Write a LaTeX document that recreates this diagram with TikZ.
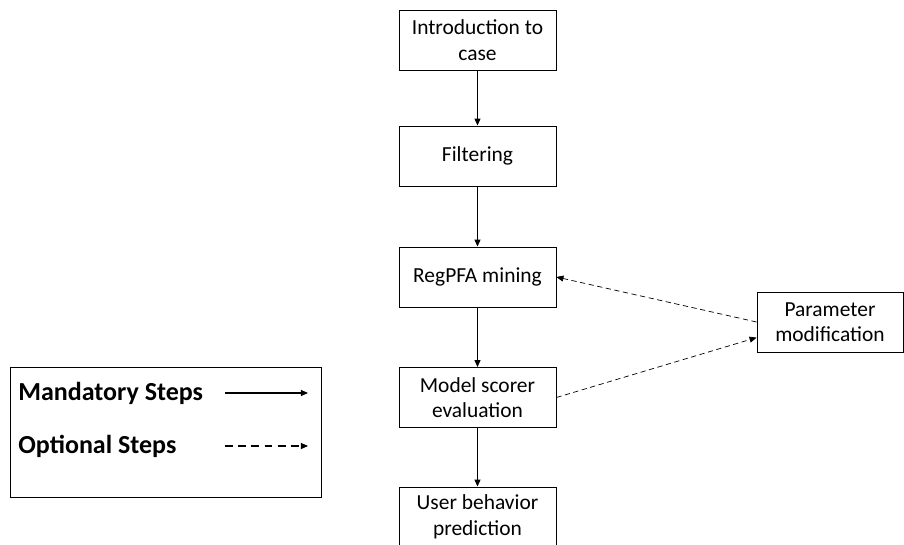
\documentclass[tikz,border=0pt]{standalone}
\usepackage{fontspec}
\setmainfont{Carlito}
\usetikzlibrary{arrows.meta}
\tikzset{
  stepbox/.style={draw, line width=0.5pt, minimum width=3.14cm, minimum height=1.2cm,
    align=center, font=\fontsize{12.2}{14.5}\selectfont},
  must/.style={-{Triangle[length=4pt,width=3.4pt]}, line width=0.7pt},
  maybe/.style={-{Triangle[length=4pt,width=3.4pt]}, line width=0.4pt, dash pattern=on 3pt off 2pt},
  legendtext/.style={anchor=west, font=\fontsize{14.8}{17}\selectfont\bfseries},
}
\begin{document}
\begin{tikzpicture}[x=0.02cm,y=-0.02cm]
\useasboundingbox (0,0) rectangle (904,545);
\clip (0,0) rectangle (904,545);
\node[stepbox] (intro) at (477.5,40) {Introduction to\\case};
\node[stepbox] (filter) at (477.5,156) {Filtering};
\node[stepbox] (mining) at (477.5,277) {RegPFA mining};
\node[stepbox] (scorer) at (477.5,397.5) {Model scorer\\evaluation};
\node[stepbox] (user) at (477.5,517) {User behavior\\prediction};
\node[stepbox, minimum width=2.92cm] (param) at (830,322) {Parameter\\modification};
\draw[must] (intro) -- (filter);
\draw[must] (filter) -- (mining);
\draw[must] (mining) -- (scorer);
\draw[must] (scorer) -- (user);
\draw[maybe] (param.west) -- (mining.east);
\draw[maybe] (scorer.east) -- (param.192);
% legend
\draw[line width=0.5pt] (10,367) rectangle (321,497);
\node[legendtext, inner sep=0pt] (mand) at (18,393) {Mandatory Steps};
\node[legendtext, inner sep=0pt] (opt) at (18,446) {Optional Steps};
\coordinate (m1) at (225,393);
\coordinate (m2) at (308,393);
\coordinate (o1) at (225,446);
\coordinate (o2) at (308,446);
\draw[must, line width=0.6pt] (m1) -- (m2);
\draw[maybe, line width=0.6pt, dash pattern=on 4.5pt off 3pt] (o1) -- (o2);
\end{tikzpicture}
\end{document}
